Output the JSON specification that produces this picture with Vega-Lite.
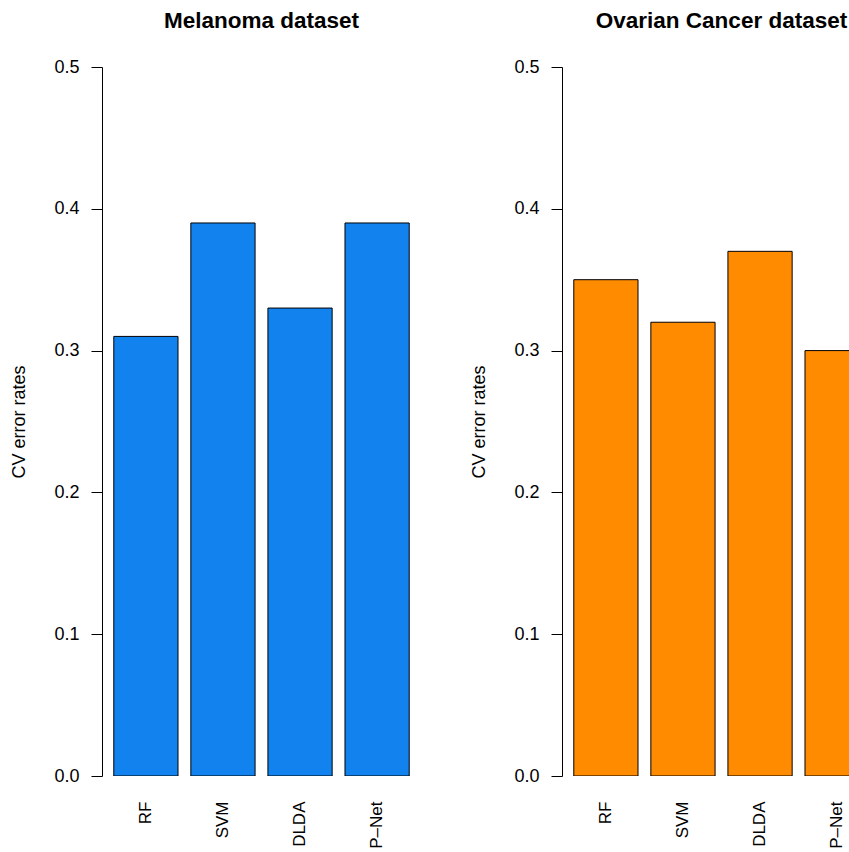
{
  "$schema": "https://vega.github.io/schema/vega-lite/v6.json",
  "padding": {"left": 10, "top": 9, "right": 0, "bottom": 0},
  "spacing": 49,
  "datasets": {
    "melanoma": [
      {"method": "RF", "cv_error": 0.31},
      {"method": "SVM", "cv_error": 0.39},
      {"method": "DLDA", "cv_error": 0.33},
      {"method": "P–Net", "cv_error": 0.39}
    ],
    "ovarian": [
      {"method": "RF", "cv_error": 0.35},
      {"method": "SVM", "cv_error": 0.32},
      {"method": "DLDA", "cv_error": 0.37},
      {"method": "P–Net", "cv_error": 0.30}
    ]
  },
  "hconcat": [
    {
      "width": 319,
      "height": 709,
      "data": {"name": "melanoma"},
      "title": {"text": "Melanoma dataset", "frame": "group", "anchor": "middle", "baseline": "alphabetic", "offset": 8},
      "mark": {"type": "bar", "fill": "#1283EE", "stroke": "black", "strokeWidth": 1, "clip": true},
      "encoding": {
        "x": {
          "field": "method", "type": "nominal", "sort": null,
          "scale": {"paddingInner": 0.1667, "paddingOuter": 0.153},
          "axis": {"title": null}
        },
        "y": {
          "field": "cv_error", "type": "quantitative",
          "scale": {"domain": [0, 0.5], "nice": false},
          "axis": {"title": "CV error rates", "values": [0, 0.1, 0.2, 0.3, 0.4, 0.5], "format": ".1f"}
        }
      }
    },
    {
      "width": 287,
      "height": 709,
      "data": {"name": "ovarian"},
      "title": {"text": "Ovarian Cancer dataset", "frame": "group", "anchor": "middle", "baseline": "alphabetic", "offset": 8, "dx": 16},
      "mark": {"type": "bar", "fill": "#FF8C00", "stroke": "black", "strokeWidth": 1, "clip": true},
      "encoding": {
        "x": {
          "field": "method", "type": "nominal", "sort": null,
          "scale": {"paddingInner": 0.1667, "paddingOuter": 0.153, "range": [0, 319]},
          "axis": {"title": null}
        },
        "y": {
          "field": "cv_error", "type": "quantitative",
          "scale": {"domain": [0, 0.5], "nice": false},
          "axis": {"title": "CV error rates", "values": [0, 0.1, 0.2, 0.3, 0.4, 0.5], "format": ".1f"}
        }
      }
    }
  ],
  "config": {
    "font": "Liberation Sans",
    "view": {"stroke": null},
    "title": {"fontSize": 22.5, "fontWeight": "bold", "color": "black", "font": "Liberation Sans"},
    "axisX": {
      "domain": false, "ticks": false, "tickSize": 0, "grid": false,
      "labelAngle": 270, "labelFontSize": 17, "labelPadding": 25,
      "labelColor": "black", "labelFont": "Liberation Sans"
    },
    "axisY": {
      "grid": false,
      "domainColor": "black", "domainWidth": 1, "tickColor": "black", "tickWidth": 1, "tickSize": 11,
      "labelFontSize": 18, "labelPadding": 12, "labelColor": "black", "labelFont": "Liberation Sans",
      "titleFontSize": 18, "titleFontWeight": "normal", "titleColor": "black", "titleFont": "Liberation Sans",
      "titlePadding": 25
    }
  }
}
